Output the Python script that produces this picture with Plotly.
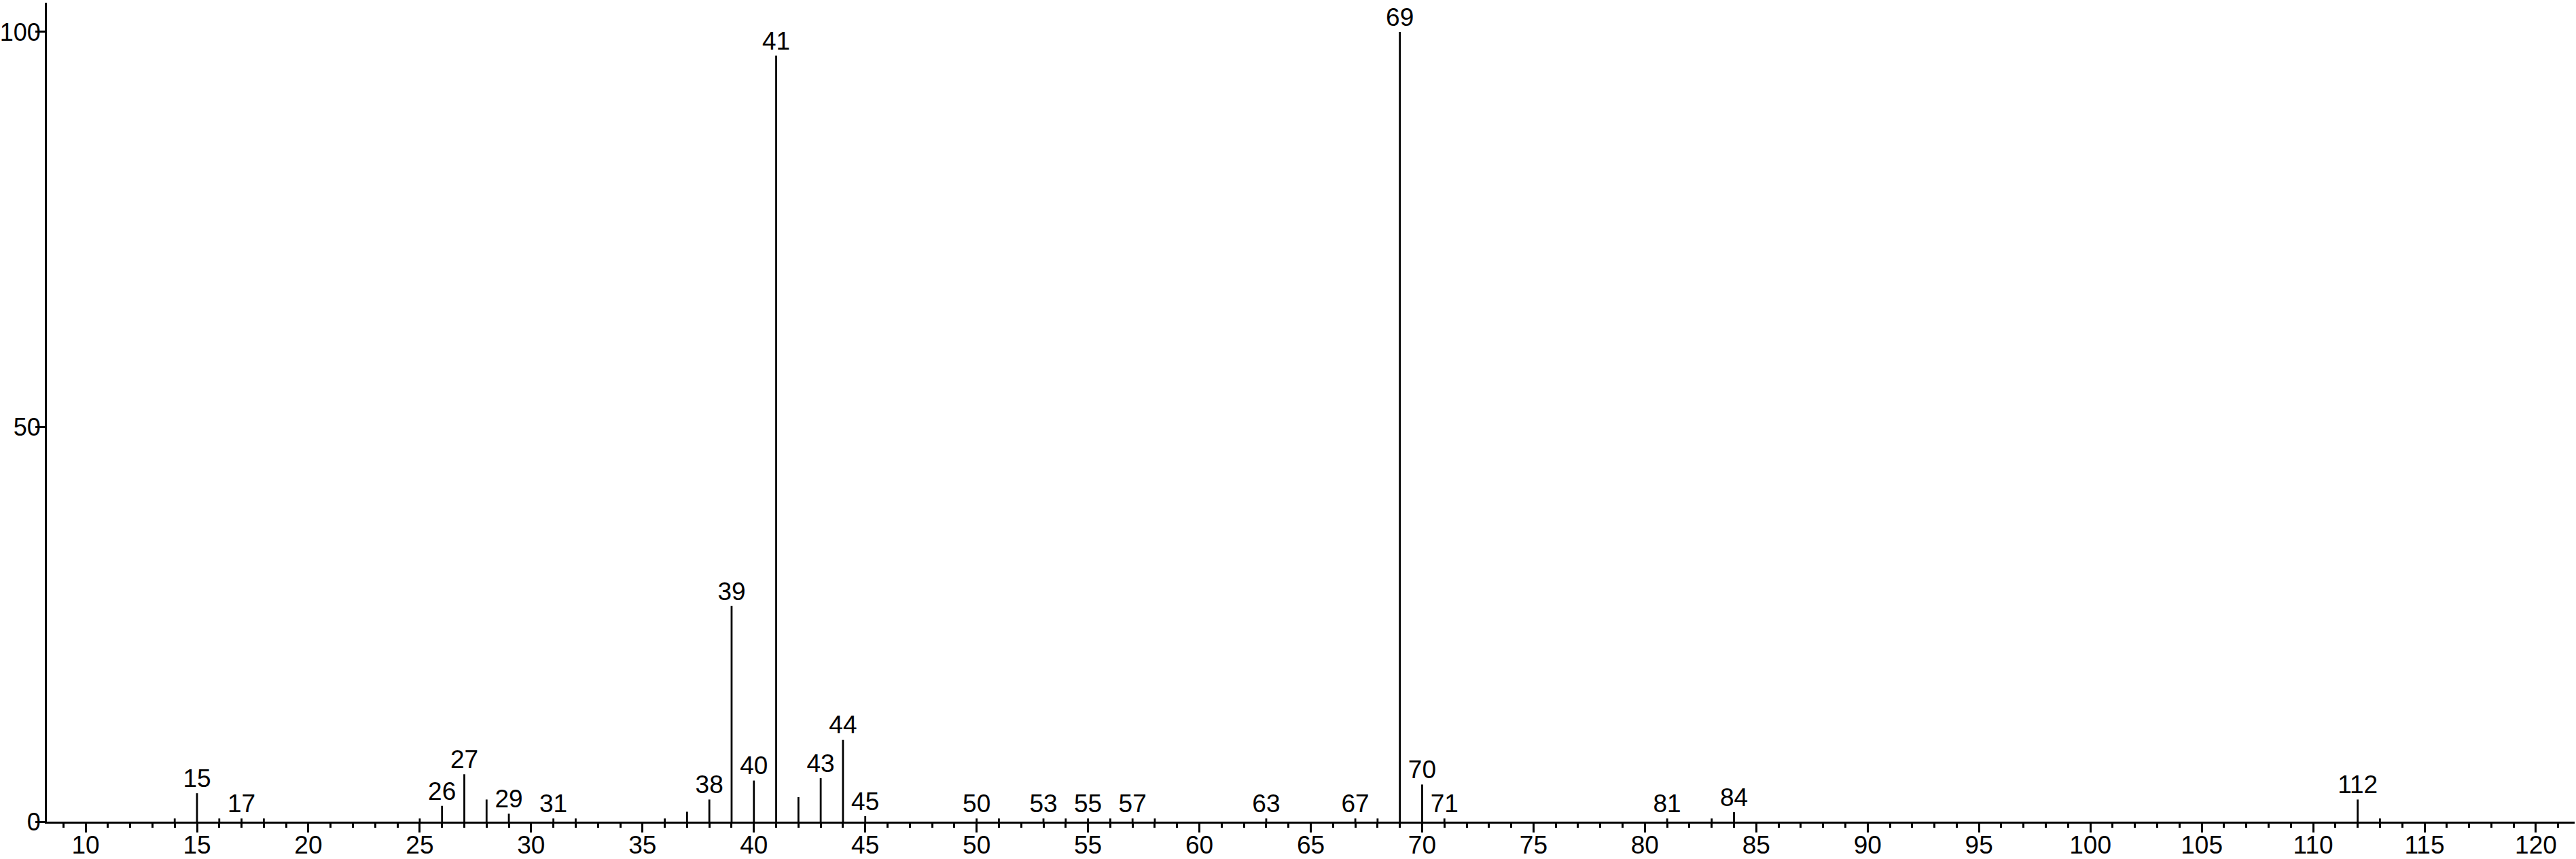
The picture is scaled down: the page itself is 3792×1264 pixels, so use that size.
import plotly.graph_objects as go

# m/z values and relative intensities
mz = [14, 15, 16, 17, 18, 25, 26, 27, 28, 29, 31, 32, 36, 37, 38, 39, 40, 41, 42, 43,
      44, 45, 50, 51, 53, 54, 55, 56, 57, 58, 63, 67, 68, 69, 70, 71, 81, 83, 84, 112, 113]
intensity = [0.4, 3.6, 0.4, 0.4, 0.4, 0.4, 2.0, 6.0, 2.8, 1.0, 0.4, 0.4, 0.4, 1.25, 2.8, 27.3, 5.2, 97.0, 3.1, 5.5,
             10.35, 0.7, 0.4, 0.4, 0.4, 0.4, 0.4, 0.4, 0.4, 0.4, 0.4, 0.4, 0.4, 100.0, 4.7, 0.4, 0.4, 0.4, 1.2, 2.8, 0.4]
labeled_mz = [15, 17, 26, 27, 29, 31, 38, 39, 40, 41, 43, 44, 45, 50, 53, 55, 57, 63, 67, 69, 70, 71, 81, 84, 112]
y_ticks = [0, 50, 100]

FONT = "Liberation Sans Narrow, Arial Narrow, Liberation Sans, Arial, sans-serif"

xs, ys = [], []
for m, v in zip(mz, intensity):
    xs += [m, m, None]
    ys += [0, v, None]

lookup = dict(zip(mz, intensity))
lx = labeled_mz
ly = [lookup[m] for m in labeled_mz]

fig = go.Figure()
fig.add_trace(go.Scatter(x=xs, y=ys, mode="lines",
                         line=dict(color="black", width=2.8), hoverinfo="skip"))
fig.add_trace(go.Scatter(x=lx, y=ly, mode="text", text=[str(m) for m in lx],
                         textposition="top center",
                         textfont=dict(family=FONT, size=37, color="black")))

fig.update_layout(
    width=3792, height=1264,
    margin=dict(l=69, r=2, t=4, b=55, autoexpand=False),
    paper_bgcolor="white", plot_bgcolor="white",
    showlegend=False,
    font=dict(family=FONT, size=37, color="black"),
)
fig.update_xaxes(
    range=[8.26, 121.74], tick0=0, dtick=5, automargin=False,
    ticks="outside", ticklen=13, tickwidth=2.5, tickcolor="black",
    ticklabelstandoff=-13,
    showline=True, linecolor="black", linewidth=3,
    showgrid=False, zeroline=False,
    tickfont=dict(family=FONT, size=37, color="black"),
    minor=dict(dtick=1, tick0=0, ticks="outside", ticklen=6, tickwidth=2.5, tickcolor="black", showgrid=False),
)
fig.update_yaxes(
    range=[0, 103.7], tickvals=y_ticks, automargin=False,
    ticks="outside", ticklen=14, tickwidth=2.5, tickcolor="black",
    ticklabelstandoff=-15,
    showline=True, linecolor="black", linewidth=3,
    showgrid=False, zeroline=False,
    tickfont=dict(family=FONT, size=36, color="black"),
)

fig.write_html("out.html", config={"displayModeBar": False},
               post_script="document.body.style.margin='0';document.body.style.overflow='hidden';")
